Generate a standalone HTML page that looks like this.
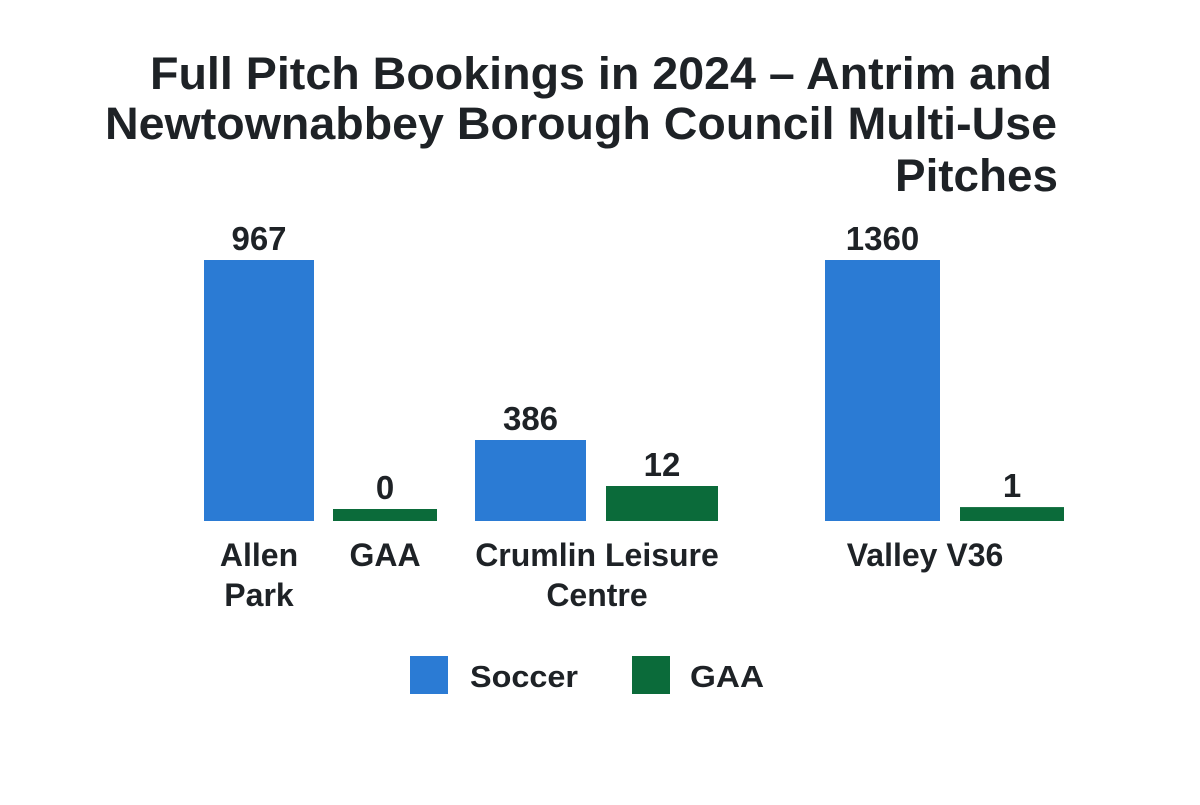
<!DOCTYPE html>
<html><head><meta charset="utf-8"><style>
body{margin:0;background:#fff;width:1200px;height:800px;overflow:hidden;font-family:"Liberation Sans",sans-serif}
svg text{font-family:"Liberation Sans",sans-serif}
</style></head><body>
<svg id="chart" width="1200" height="800">
<g font-size="45" font-weight="bold" fill="#1e2226">
<text x="150" y="89" textLength="902" lengthAdjust="spacingAndGlyphs">Full Pitch Bookings in 2024 – Antrim and</text>
<text x="105" y="139" textLength="952" lengthAdjust="spacingAndGlyphs">Newtownabbey Borough Council Multi-Use</text>
<text x="895" y="191" textLength="163" lengthAdjust="spacingAndGlyphs">Pitches</text>
</g>
<g id="bars"></g>
<g id="legend">
<rect x="410" y="656" width="38" height="38" fill="#2b7bd4"/>
<text x="470" y="687" font-size="31" font-weight="bold" fill="#1e2226" textLength="108" lengthAdjust="spacingAndGlyphs">Soccer</text>
<rect x="632" y="656" width="38" height="38" fill="#0b6b3a"/>
<text x="690" y="687" font-size="31" font-weight="bold" fill="#1e2226" textLength="74" lengthAdjust="spacingAndGlyphs">GAA</text>
</g>
</svg>
<script>
const categories=["Allen Park","Crumlin Leisure Centre","Valley V36"];
const soccer=[967,386,1360];
const gaa=[0,12,1];
const xLabels=[["Allen","Park"],["GAA"],["Crumlin Leisure","Centre"],["Valley V36"]];
const scaleDomain=[0,12,386,967,1360];
const scaleRange=[12,35,81,261,261];
const baseline=521;
function yScale(v){
  for(let i=1;i<scaleDomain.length;i++){
    if(v<=scaleDomain[i]){const t=(v-scaleDomain[i-1])/(scaleDomain[i]-scaleDomain[i-1]);return scaleRange[i-1]+t*(scaleRange[i]-scaleRange[i-1]);}
  }
  return scaleRange[scaleRange.length-1];
}
const groupX=[[204,110],[475,111],[825,115]];
const gaaX=[[333,104],[606,112],[960,104]];
const g=document.getElementById('bars');
const NS="http://www.w3.org/2000/svg";
function bar(x,w,v,color,name){
  const h=yScale(v);
  const r=document.createElementNS(NS,'rect');
  r.setAttribute('x',x);r.setAttribute('y',baseline-h);r.setAttribute('width',w);r.setAttribute('height',h);r.setAttribute('fill',color);
  
  
  g.appendChild(r);
  const t=document.createElementNS(NS,'text');
  t.setAttribute('x',x+w/2);t.setAttribute('y',baseline-h-10);t.setAttribute('text-anchor','middle');t.setAttribute('font-size','33');t.setAttribute('font-weight','bold');t.setAttribute('fill','#1e2226');
  t.textContent=v;
  
  
  g.appendChild(t);
}
categories.forEach((c,i)=>{
  bar(groupX[i][0],groupX[i][1],soccer[i],'#2b7bd4','bar-soccer-'+i);
  bar(gaaX[i][0],gaaX[i][1],gaa[i],'#0b6b3a','bar-gaa-'+i);
});
const labelPos=[[259,566],[385,566],[597,566],[925,566]];
xLabels.forEach((lines,i)=>{
  lines.forEach((l,j)=>{
    const t=document.createElementNS(NS,'text');
    t.setAttribute('x',labelPos[i][0]);t.setAttribute('y',labelPos[i][1]+j*40);t.setAttribute('text-anchor','middle');t.setAttribute('font-size','32');t.setAttribute('font-weight','bold');t.setAttribute('fill','#1e2226');
    t.textContent=l;
    
    
    g.appendChild(t);
  });
});
</script>
</body></html>
